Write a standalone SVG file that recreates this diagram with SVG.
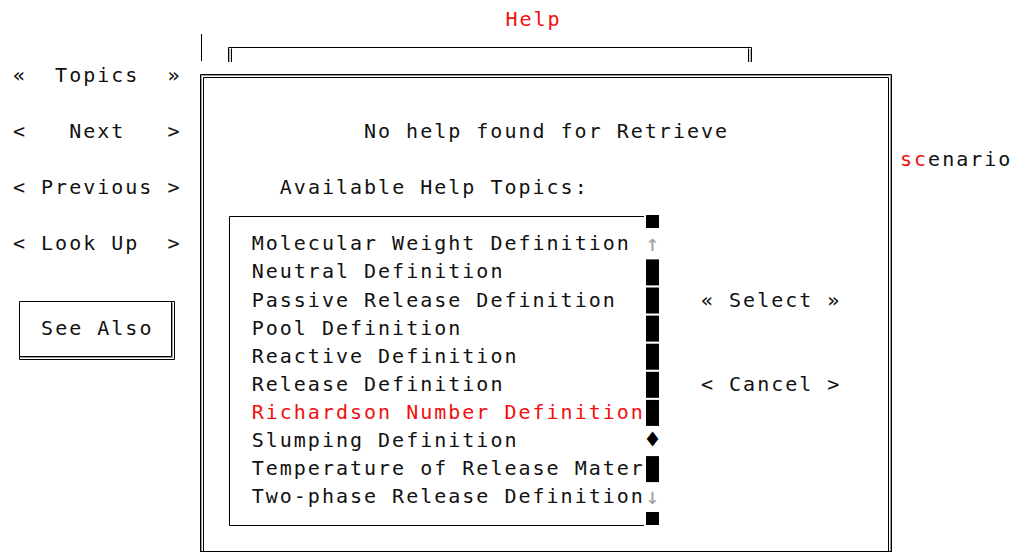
<svg xmlns="http://www.w3.org/2000/svg" width="1015" height="554" viewBox="0 0 1015 554">
<style>
text{font-family:"DejaVu Sans Mono","Liberation Mono",monospace;font-size:20px;letter-spacing:2px;fill:#111;white-space:pre}
.red{fill:#f01010}
.k{fill:none;stroke:#000;stroke-width:1}
.g{fill:none;stroke:#9a9a9a;stroke-width:1}
.blk{fill:#000}
.arr{fill:#a0a0a0;letter-spacing:0;font-size:23px}
</style>
<rect width="1015" height="554" fill="#fff"/>
<g id="title"><text class="red" x="505.5" y="25.5">Help</text></g>
<g id="tab-bar">
<path class="k" d="M201.5,34V61"/>
<path class="k" d="M228.5,62V47.5H751.5V62"/>
<path class="g" d="M229.8,62V49"/>
<path class="k" d="M231.5,62V48.5"/>
<path class="g" d="M750.2,62V49"/>
<path class="k" d="M748.5,62V48.5"/>
</g>
<g id="nav-topics"><text xml:space="preserve" x="13" y="81.7">«  Topics  »</text></g>
<g id="nav-next"><text xml:space="preserve" x="13" y="137.9">&lt;   Next   &gt;</text></g>
<g id="nav-previous"><text xml:space="preserve" x="13" y="194.1">&lt; Previous &gt;</text></g>
<g id="nav-lookup"><text xml:space="preserve" x="13" y="250.3">&lt; Look Up  &gt;</text></g>
<g id="see-also">
<path class="k" d="M19.5,359.5V301.5H174.5V359.5H19.5"/>
<path class="g" d="M172.5,303V357.5H21"/>
<path class="k" d="M171.5,302V356.5H20"/>
<text xml:space="preserve" x="41.1" y="334.6">See Also</text>
</g>
<g id="dialog">
<path class="k" d="M200.5,552V74.5H891.5V552"/>
<path class="g" d="M201.5,552V75.5H890.5V552"/>
<path class="k" d="M203.5,552V77.5H888.5V552"/>
<path class="k" d="M200.5,551.5H891.5"/>
<text xml:space="preserve" x="364" y="137.9">No help found for Retrieve</text>
<text xml:space="preserve" x="279.8" y="194.1">Available Help Topics:</text>
</g>
<g id="scenario"><text x="900" y="166"><tspan class="red">sc</tspan>enario</text></g>
<g id="listbox">
<path class="k" d="M644,216.5H229.5V525.5H644"/>
<text x="251.7" y="250.3">Molecular Weight Definition</text>
<text x="251.7" y="278.4">Neutral Definition</text>
<text x="251.7" y="306.5">Passive Release Definition</text>
<text x="251.7" y="334.6">Pool Definition</text>
<text x="251.7" y="362.7">Reactive Definition</text>
<text x="251.7" y="390.8">Release Definition</text>
<text class="red" x="251.7" y="418.9">Richardson Number Definition</text>
<text x="251.7" y="447">Slumping Definition</text>
<text x="251.7" y="475.1">Temperature of Release Mater</text>
<text x="251.7" y="503.2">Two-phase Release Definition</text>
</g>
<g id="scrollbar">
<rect class="blk" x="646" y="215" width="13" height="13"/>
<text class="arr" x="652.5" y="251" text-anchor="middle">↑</text>
<rect class="blk" x="646" y="259.4" width="13" height="26"/>
<rect class="blk" x="646" y="287.5" width="13" height="26"/>
<rect class="blk" x="646" y="315.6" width="13" height="26"/>
<rect class="blk" x="646" y="343.7" width="13" height="26"/>
<rect class="blk" x="646" y="371.8" width="13" height="26"/>
<rect class="blk" x="646" y="399.9" width="13" height="26"/>
<text x="652.5" y="448" text-anchor="middle" style="letter-spacing:0;fill:#000;font-size:25px">♦</text>
<rect class="blk" x="646" y="456.1" width="13" height="26"/>
<text class="arr" x="652.5" y="503.5" text-anchor="middle">↓</text>
<rect class="blk" x="646" y="512" width="13" height="13"/>
</g>
<g id="btn-select"><text xml:space="preserve" x="701" y="306.5">« Select »</text></g>
<g id="btn-cancel"><text xml:space="preserve" x="701" y="390.8">&lt; Cancel &gt;</text></g>
<g id="connectors"/>
</svg>
